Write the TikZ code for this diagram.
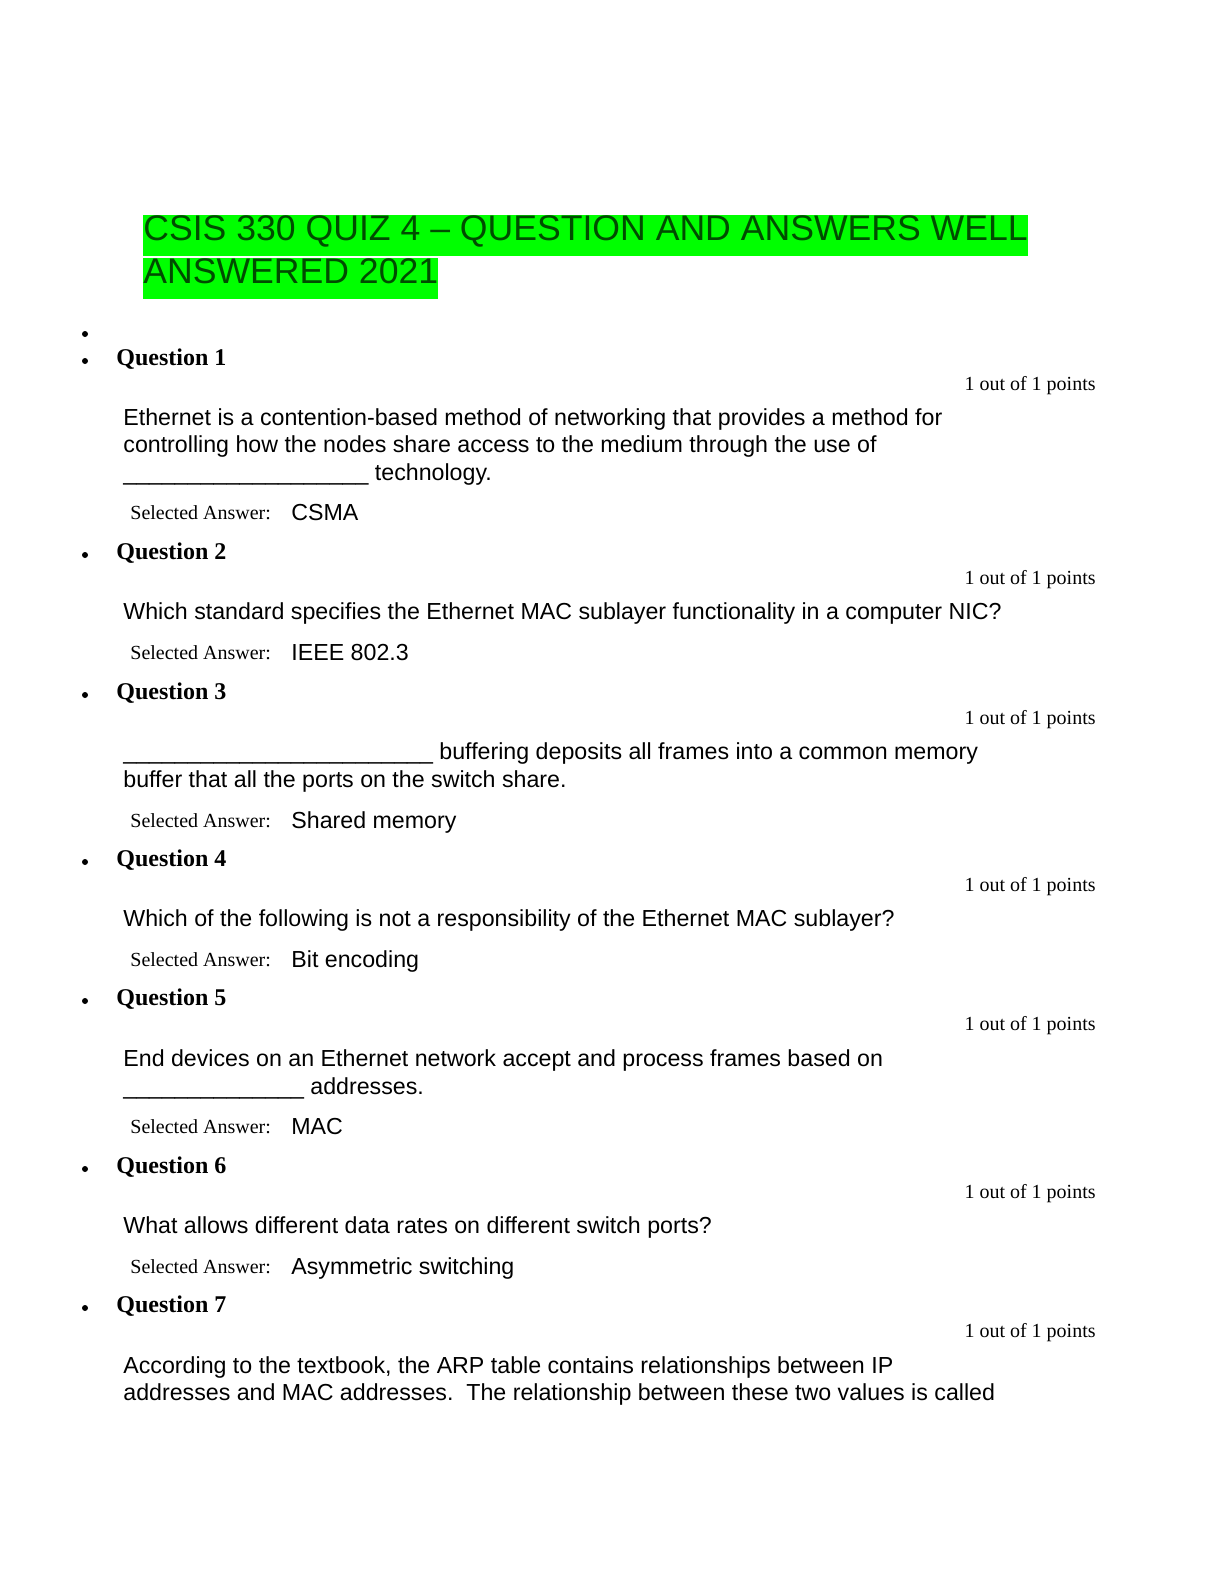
\documentclass[tikz,border=0pt]{standalone}
\usepackage{fontspec}
\setmainfont{Liberation Serif}
\newfontfamily\arial{Liberation Sans}
\definecolor{hlgreen}{RGB}{0,255,0}

\begin{document}
\begin{tikzpicture}[x=0.5pt,y=-0.5pt]
    \tikzstyle{title}=[anchor=mid west,inner sep=0pt,font=\arial\fontsize{17.8}{20}\selectfont,text=black!70!green]
    \tikzstyle{quest}=[anchor=mid west,inner sep=0pt,font=\bfseries\fontsize{12}{14}\selectfont]
    \tikzstyle{points}=[anchor=mid east,inner sep=0pt,font=\fontsize{10}{12}\selectfont]
    \tikzstyle{body}=[anchor=mid west,inner sep=0pt,font=\arial\fontsize{11.6}{14}\selectfont]
    \tikzstyle{sel}=[anchor=mid west,inner sep=0pt,font=\fontsize{10}{12}\selectfont]
    \tikzstyle{bullet}=[circle,fill=black,inner sep=0pt,minimum size=3pt]

    \useasboundingbox (0,0) rectangle (1224,1584);

    %%%%%%%%%%%%%%%%%%%%%%%%%%%%%%%%%%%%%%%%%%%%
    %%% TITLE
    %%%%%%%%%%%%%%%%%%%%%%%%%%%%%%%%%%%%%%%%%%%%
    \fill[hlgreen] (143,215) rectangle (1028,256);
    \fill[hlgreen] (143,258) rectangle (438,299);
    \node[title] (t1) at (143,236) {CSIS 330 QUIZ 4 – QUESTION AND ANSWERS WELL};
    \node[title] (t2) at (143,279) {ANSWERED 2021};

    %%%%%%%%%%%%%%%%%%%%%%%%%%%%%%%%%%%%%%%%%%%%
    %%% QUESTIONS
    %%%%%%%%%%%%%%%%%%%%%%%%%%%%%%%%%%%%%%%%%%%%
    \node[bullet] (b0) at (85,334) {};
    \foreach \n / \y in {1/361,2/555,3/695,4/862,5/1001,6/1169,7/1308}{
        \node[bullet] (b\n) at (85,\y) {};
        \node[quest] (q\n) at (116,\y) {Question \n};
        \node[points] (p\n) at (1096,\y+25) {1 out of 1 points};
    }

    % question texts
    \node[body] (x1a) at (123,421) {Ethernet is a contention-based method of networking that provides a method for};
    \node[body] (x1b) at (123,448) {controlling how the nodes share access to the medium through the use of};
    \node[body] (x1c) at (123,476) {\_\_\_\_\_\_\_\_\_\_\_\_\_\_\_\_\_\_\_ technology.};
    \node[body] (x2a) at (123,615) {Which standard specifies the Ethernet MAC sublayer functionality in a computer NIC?};
    \node[body] (x3a) at (123,755) {\_\_\_\_\_\_\_\_\_\_\_\_\_\_\_\_\_\_\_\_\_\_\_\_ buffering deposits all frames into a common memory};
    \node[body] (x3b) at (123,783) {buffer that all the ports on the switch share.};
    \node[body] (x4a) at (123,922) {Which of the following is not a responsibility of the Ethernet MAC sublayer?};
    \node[body] (x5a) at (123,1062) {End devices on an Ethernet network accept and process frames based on};
    \node[body] (x5b) at (123,1090) {\_\_\_\_\_\_\_\_\_\_\_\_\_\_ addresses.};
    \node[body] (x6a) at (123,1229) {What allows different data rates on different switch ports?};
    \node[body] (x7a) at (123,1369) {According to the textbook, the ARP table contains relationships between IP};
    \node[body] (x7b) at (123,1396) {addresses and MAC addresses.\ \ The relationship between these two values is called};

    % selected answers
    \foreach \n / \y / \ans in {1/515/CSMA,2/655/IEEE 802.3,3/823/Shared memory,4/962/Bit encoding,5/1129/MAC,6/1269/Asymmetric switching}{
        \node[sel] (s\n) at (130,\y) {Selected Answer:};
        \node[body] (a\n) at (291,\y+1) {\ans};
    }
\end{tikzpicture}
\end{document}
